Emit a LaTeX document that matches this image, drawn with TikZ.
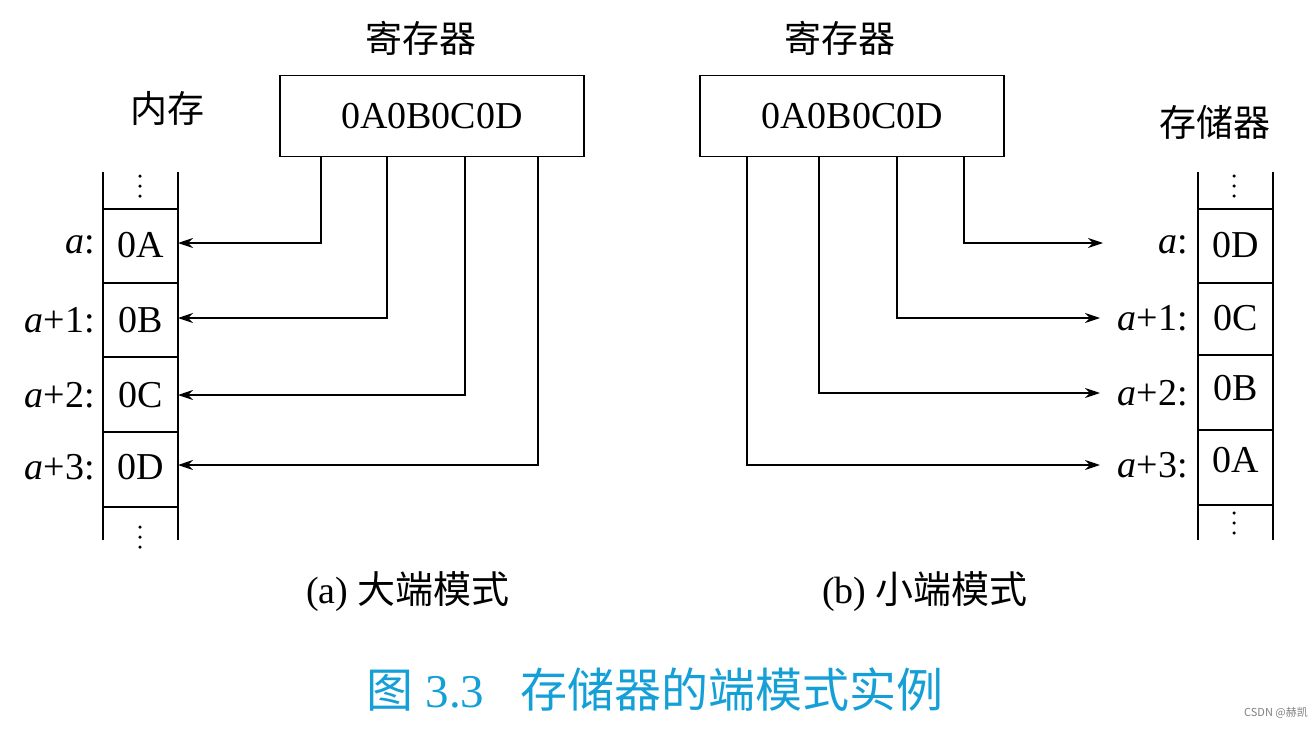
\documentclass[tikz,border=0pt]{standalone}
\usepackage{fontspec}
\setmainfont{Liberation Serif}
\newfontfamily\cjk{Noto Sans CJK SC}
\usetikzlibrary{arrows.meta}
\definecolor{capblue}{RGB}{20,160,215}
\begin{document}
\begin{tikzpicture}[x=1pt,y=-1pt,
  ln/.style={line width=1.5pt},
  arr/.style={ln,-{Stealth[length=15,width=10]}},
  txt/.style={font=\fontsize{38}{42}\selectfont,inner sep=0pt},
  lbl/.style={txt,anchor=east},
  cjkt/.style={font=\cjk\fontsize{37}{40}\selectfont,inner sep=0pt},
  vdot/.style={fill,circle,inner sep=0pt,minimum size=3.5pt}]
\useasboundingbox (0,0) rectangle (1314,728);
% ---- left (a)
\node[cjkt] (r1t) at (421,38) {寄存器};
\node[draw,ln,minimum width=304,minimum height=81,txt] (r1) at (432,116) {0A0B0C0D};
\node[cjkt] (m1t) at (167,108) {内存};
\draw[ln] (103,172) -- (103,540) (178,172) -- (178,540);
\foreach \yy in {209,283,357,432,507} \draw[ln] (103,\yy) -- (178,\yy);
\foreach \yy in {176,186,196} \node[vdot] at (140,\yy) {};
\foreach \yy in {527,537,547} \node[vdot] at (140,\yy) {};
\node[txt] (c1) at (141,245) {0A};
\node[txt] (c2) at (141,320) {0B};
\node[txt] (c3) at (141,395) {0C};
\node[txt] (c4) at (141,467) {0D};
\node[lbl] (l1) at (95,245) {\textit{a}:};
\node[lbl] (l2) at (95,320) {\textit{a}+1:};
\node[lbl] (l3) at (95,395) {\textit{a}+2:};
\node[lbl] (l4) at (95,467) {\textit{a}+3:};
\draw[arr] (321,156) |- (178,243);
\draw[arr] (387,156) |- (178,318);
\draw[arr] (465,156) |- (178,395);
\draw[arr] (538,156) |- (178,465);
\node[txt] (capa) at (408,592) {(a) {\cjk 大端模式}};
% ---- right (b)
\node[cjkt] (r2t) at (840,38) {寄存器};
\node[draw,ln,minimum width=304,minimum height=81,txt] (r2) at (852,116) {0A0B0C0D};
\node[cjkt] (m2t) at (1215,122) {存储器};
\draw[ln] (1198,172) -- (1198,540) (1273,172) -- (1273,540);
\foreach \yy in {209,283,355,430,505} \draw[ln] (1198,\yy) -- (1273,\yy);
\foreach \yy in {176,186,196} \node[vdot] at (1234,\yy) {};
\foreach \yy in {513,523,533} \node[vdot] at (1234,\yy) {};
\node[txt] (e1) at (1236,245) {0D};
\node[txt] (e2) at (1236,318) {0C};
\node[txt] (e3) at (1236,388) {0B};
\node[txt] (e4) at (1236,460) {0A};
\node[lbl] (k1) at (1188,245) {\textit{a}:};
\node[lbl] (k2) at (1188,318) {\textit{a}+1:};
\node[lbl] (k3) at (1188,393) {\textit{a}+2:};
\node[lbl] (k4) at (1188,465) {\textit{a}+3:};
\draw[arr] (964,156) |- (1103,243);
\draw[arr] (897,156) |- (1100,318);
\draw[arr] (819,156) |- (1100,393);
\draw[arr] (747,156) |- (1100,465);
\node[txt] (capb) at (925,592) {(b) {\cjk 小端模式}};
% ---- title
\node[inner sep=0pt,text=capblue,font=\fontsize{47}{50}\selectfont] (title) at (655,690) {{\cjk 图} 3.3\hspace{36pt}{\cjk 存储器的端模式实例}};
\node[inner sep=0pt,text=gray,font=\cjk\fontsize{11}{12}\selectfont,anchor=east] (wm) at (1308,713) {CSDN @赫凯};
\end{tikzpicture}
\end{document}
